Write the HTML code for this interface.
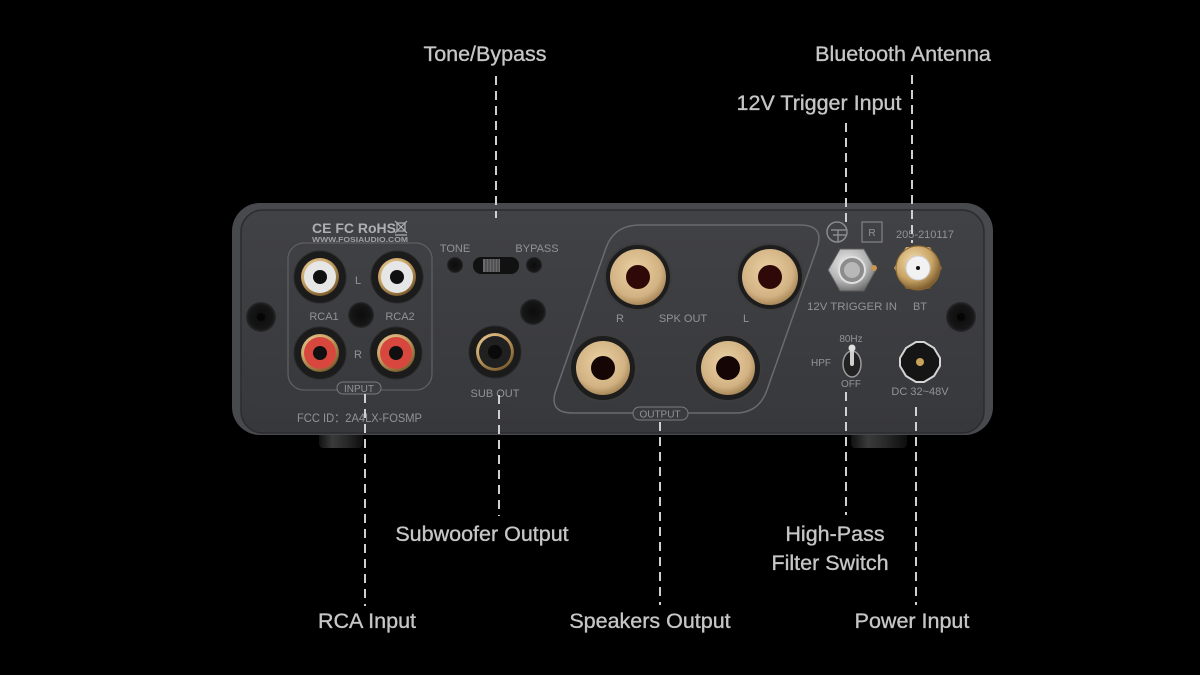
<!DOCTYPE html>
<html><head><meta charset="utf-8"><style>
html,body{margin:0;padding:0;background:#000;}
body{width:1200px;height:675px;overflow:hidden;}
svg{display:block;}
.lbl{font-family:"Liberation Sans",Arial,sans-serif;font-size:21.5px;fill:#c6c6c6;stroke:#c6c6c6;stroke-width:0.35px;}
.pt{font-family:"Liberation Sans",Arial,sans-serif;fill:#929395;}
</style></head><body>
<svg width="1200" height="675" viewBox="0 0 1200 675" xmlns="http://www.w3.org/2000/svg">
<defs>
<linearGradient id="face" x1="0" y1="0" x2="0" y2="1">
<stop offset="0" stop-color="#414245"/><stop offset="1" stop-color="#37383b"/>
</linearGradient>
<radialGradient id="gold" cx="0.4" cy="0.35" r="0.7">
<stop offset="0" stop-color="#f3deb0"/><stop offset="0.6" stop-color="#c9a466"/><stop offset="1" stop-color="#6e5025"/>
</radialGradient>
<radialGradient id="spk" cx="0.45" cy="0.4" r="0.65">
<stop offset="0" stop-color="#ead2a6"/><stop offset="0.7" stop-color="#d2b282"/><stop offset="1" stop-color="#9c7a4c"/>
</radialGradient>
<radialGradient id="silver" cx="0.4" cy="0.35" r="0.7">
<stop offset="0" stop-color="#eeeeee"/><stop offset="0.6" stop-color="#b4b4b4"/><stop offset="1" stop-color="#6a6a6a"/>
</radialGradient>
<radialGradient id="hole" cx="0.5" cy="0.5" r="0.5">
<stop offset="0" stop-color="#0c0c0c"/><stop offset="0.8" stop-color="#161617"/><stop offset="1" stop-color="#2a2a2c"/>
</radialGradient>
<linearGradient id="foot" x1="0" y1="0" x2="1" y2="0">
<stop offset="0" stop-color="#111"/><stop offset="0.3" stop-color="#3a3a3a"/><stop offset="0.6" stop-color="#2a2a2a"/><stop offset="1" stop-color="#0d0d0d"/>
</linearGradient>
</defs>
<rect width="1200" height="675" fill="#000"/>

<!-- feet -->
<rect x="319" y="430" width="44" height="18" rx="4" fill="url(#foot)"/>
<rect x="851" y="430" width="56" height="18" rx="4" fill="url(#foot)"/>

<!-- panel -->
<rect x="232" y="203" width="761" height="232" rx="28" fill="#48494c"/>
<rect x="241" y="210" width="743" height="223" rx="22" fill="url(#face)" stroke="#2b2c2e" stroke-width="1.5"/>

<!-- screw holes -->
<circle cx="261" cy="317" r="15" fill="url(#hole)"/>
<circle cx="261" cy="317" r="4" fill="#050505"/>
<circle cx="961" cy="317" r="15" fill="url(#hole)"/>
<circle cx="961" cy="317" r="4" fill="#050505"/>

<!-- cert text -->
<text class="pt" x="312" y="233" font-size="14" font-weight="bold" style="fill:#aeafb1">CE FC RoHS</text>
<g stroke="#aeafb1" stroke-width="1.2" fill="none">
<rect x="397" y="223" width="8" height="8"/><line x1="395" y1="221" x2="407" y2="233"/><line x1="407" y1="221" x2="395" y2="233"/><line x1="395" y1="235" x2="407" y2="235"/>
</g>
<text class="pt" x="312" y="242" font-size="7.5" font-weight="bold" textLength="96" lengthAdjust="spacingAndGlyphs" style="fill:#a0a1a3">WWW.FOSIAUDIO.COM</text>

<!-- input group -->
<rect x="288" y="243" width="144" height="147" rx="16" fill="none" stroke="#5d5e61" stroke-width="1.3"/>
<circle cx="361" cy="315" r="13" fill="url(#hole)"/>
<g>
<circle cx="320" cy="277" r="26" fill="#1b1b1c" stroke="#2a2a2b"/>
<circle cx="320" cy="277" r="19" fill="url(#gold)"/>
<circle cx="320" cy="277" r="16" fill="#e6e6e6"/>
<circle cx="320" cy="277" r="7" fill="#101010"/>
<circle cx="397" cy="277" r="26" fill="#1b1b1c" stroke="#2a2a2b"/>
<circle cx="397" cy="277" r="19" fill="url(#gold)"/>
<circle cx="397" cy="277" r="16" fill="#e6e6e6"/>
<circle cx="397" cy="277" r="7" fill="#101010"/>
<circle cx="320" cy="353" r="26" fill="#1b1b1c" stroke="#2a2a2b"/>
<circle cx="320" cy="353" r="19" fill="url(#gold)"/>
<circle cx="320" cy="353" r="16" fill="#d8473d"/>
<circle cx="320" cy="353" r="7" fill="#101010"/>
<circle cx="396" cy="353" r="26" fill="#1b1b1c" stroke="#2a2a2b"/>
<circle cx="396" cy="353" r="19" fill="url(#gold)"/>
<circle cx="396" cy="353" r="16" fill="#d8473d"/>
<circle cx="396" cy="353" r="7" fill="#101010"/>
</g>
<text class="pt" x="358" y="284" font-size="11" text-anchor="middle">L</text>
<text class="pt" x="358" y="358" font-size="11" text-anchor="middle">R</text>
<text class="pt" x="324" y="320" font-size="11" text-anchor="middle">RCA1</text>
<text class="pt" x="400" y="320" font-size="11" text-anchor="middle">RCA2</text>
<rect x="337" y="382" width="44" height="12" rx="6" fill="#3b3c3f" stroke="#7a7b7e" stroke-width="1"/>
<text class="pt" x="359" y="392" font-size="10" text-anchor="middle">INPUT</text>
<text class="pt" x="297" y="422" font-size="12" textLength="125" lengthAdjust="spacingAndGlyphs">FCC ID：2A4LX-FOSMP</text>

<!-- tone / bypass -->
<text class="pt" x="455" y="252" font-size="11" text-anchor="middle">TONE</text>
<text class="pt" x="537" y="252" font-size="11" text-anchor="middle">BYPASS</text>
<circle cx="455" cy="265" r="8" fill="url(#hole)"/>
<circle cx="534" cy="265" r="8" fill="url(#hole)"/>
<rect x="473" y="257" width="46" height="17" rx="8" fill="#111"/>
<rect x="483" y="259" width="17" height="13" fill="#6a6a6c"/>
<g stroke="#3a3a3c" stroke-width="1"><line x1="486" y1="259" x2="486" y2="272"/><line x1="489" y1="259" x2="489" y2="272"/><line x1="492" y1="259" x2="492" y2="272"/><line x1="495" y1="259" x2="495" y2="272"/><line x1="498" y1="259" x2="498" y2="272"/></g>
<circle cx="533" cy="312" r="13" fill="url(#hole)"/>

<!-- sub out -->
<circle cx="495" cy="352" r="26" fill="#1b1b1c" stroke="#2a2a2b"/>
<circle cx="495" cy="352" r="19" fill="url(#gold)"/>
<circle cx="495" cy="352" r="16" fill="#202021"/>
<circle cx="495" cy="352" r="7" fill="#0a0a0a"/>
<text class="pt" x="495" y="397" font-size="11" text-anchor="middle">SUB OUT</text>

<!-- output group -->
<path d="M 640 225 L 800 225 Q 825 225 817 248 L 767 390 Q 759 413 735 413 L 573 413 Q 548 413 556 390 L 606 248 Q 614 225 640 225 Z" fill="none" stroke="#6a6b6e" stroke-width="1.5"/>
<g>
<circle cx="638" cy="277" r="33" fill="#1d1d1e" stroke="#3c3c3e" stroke-width="2"/>
<circle cx="638" cy="277" r="28" fill="url(#spk)"/>
<circle cx="638" cy="277" r="12" fill="#2e0907"/>
<circle cx="770" cy="277" r="33" fill="#1d1d1e" stroke="#3c3c3e" stroke-width="2"/>
<circle cx="770" cy="277" r="28" fill="url(#spk)"/>
<circle cx="770" cy="277" r="12" fill="#2e0907"/>
<circle cx="603" cy="368" r="33" fill="#1d1d1e" stroke="#3c3c3e" stroke-width="2"/>
<circle cx="603" cy="368" r="27" fill="url(#spk)"/>
<circle cx="603" cy="368" r="12" fill="#150605"/>
<circle cx="728" cy="368" r="33" fill="#1d1d1e" stroke="#3c3c3e" stroke-width="2"/>
<circle cx="728" cy="368" r="27" fill="url(#spk)"/>
<circle cx="728" cy="368" r="12" fill="#150605"/>
</g>
<text class="pt" x="620" y="322" font-size="11" text-anchor="middle">R</text>
<text class="pt" x="683" y="322" font-size="11" text-anchor="middle">SPK OUT</text>
<text class="pt" x="746" y="322" font-size="11" text-anchor="middle">L</text>
<rect x="633" y="407" width="55" height="13" rx="6.5" fill="#3a3b3e" stroke="#7a7b7e" stroke-width="1"/>
<text class="pt" x="660" y="417.5" font-size="10" text-anchor="middle">OUTPUT</text>

<!-- right side marks -->
<circle cx="837" cy="232" r="10" fill="none" stroke="#8a8b8d" stroke-width="1.5"/>
<g stroke="#8a8b8d" stroke-width="1.5"><line x1="831" y1="230" x2="846" y2="230"/><line x1="833" y1="235" x2="846" y2="235"/><line x1="838" y1="230" x2="838" y2="242"/></g>
<rect x="862" y="222" width="20" height="20" fill="none" stroke="#7e7f81" stroke-width="1.3"/>
<text class="pt" x="872" y="236" font-size="10" text-anchor="middle">R</text>
<text class="pt" x="925" y="238" font-size="11" text-anchor="middle">205-210117</text>

<!-- trigger -->
<polygon points="876,270 864,291 840,291 828,270 840,249 864,249" fill="url(#silver)" stroke="#5a5a5a"/>
<circle cx="874" cy="268" r="3" fill="#c8964e"/>
<circle cx="852" cy="270" r="13" fill="#8c8c8c" stroke="#e0e0e0" stroke-width="2"/>
<circle cx="852" cy="270" r="8" fill="#b8b8b8"/>
<text class="pt" x="852" y="310" font-size="11" text-anchor="middle" textLength="90" lengthAdjust="spacingAndGlyphs">12V TRIGGER IN</text>

<!-- BT -->
<polygon points="942,268 930,289 906,289 894,268 906,247 930,247" fill="url(#gold)"/>
<circle cx="918" cy="268" r="22" fill="url(#gold)" stroke="#8a6630" stroke-width="1"/>
<circle cx="918" cy="268" r="12" fill="#f2f2f2" stroke="#cfcfcf"/>
<circle cx="918" cy="268" r="2" fill="#111"/>
<text class="pt" x="920" y="310" font-size="11" text-anchor="middle">BT</text>

<!-- HPF toggle -->
<text class="pt" x="851" y="342" font-size="10" text-anchor="middle">80Hz</text>
<text class="pt" x="821" y="366" font-size="10" text-anchor="middle">HPF</text>
<text class="pt" x="851" y="387" font-size="10" text-anchor="middle">OFF</text>
<ellipse cx="852" cy="364" rx="9" ry="13" fill="#222" stroke="#9a9a9c" stroke-width="1.5"/>
<line x1="852" y1="364" x2="852" y2="349" stroke="#cfcfcf" stroke-width="4" stroke-linecap="round"/>
<circle cx="852" cy="348" r="3.5" fill="#e0e0e0"/>

<!-- DC jack -->
<polygon points="940,358 940,366 934,376 924,382 916,382 906,376 900,366 900,358 906,348 916,342 924,342 934,348" fill="#151515" stroke="#d4d4d4" stroke-width="2"/>
<circle cx="920" cy="362" r="4" fill="#c9a35c"/>
<text class="pt" x="920" y="395" font-size="11" text-anchor="middle">DC 32~48V</text>

<!-- leader lines -->
<g stroke="#d0d0d0" stroke-width="2" stroke-dasharray="9 6" fill="none">
<line x1="496" y1="76" x2="496" y2="218"/>
<line x1="912" y1="75" x2="912" y2="243"/>
<line x1="846" y1="123" x2="846" y2="222"/>
<line x1="365" y1="394" x2="365" y2="606"/>
<line x1="499" y1="395" x2="499" y2="516"/>
<line x1="660" y1="422" x2="660" y2="605"/>
<line x1="846" y1="392" x2="846" y2="515"/>
<line x1="916" y1="407" x2="916" y2="605"/>
</g>

<!-- labels -->
<text class="lbl" x="485" y="61" text-anchor="middle">Tone/Bypass</text>
<text class="lbl" x="903" y="61" text-anchor="middle">Bluetooth Antenna</text>
<text class="lbl" x="819" y="110" text-anchor="middle">12V Trigger Input</text>
<text class="lbl" x="482" y="541" text-anchor="middle">Subwoofer Output</text>
<text class="lbl" x="835" y="541" text-anchor="middle">High-Pass</text>
<text class="lbl" x="830" y="570" text-anchor="middle">Filter Switch</text>
<text class="lbl" x="367" y="628" text-anchor="middle">RCA Input</text>
<text class="lbl" x="650" y="628" text-anchor="middle">Speakers Output</text>
<text class="lbl" x="912" y="628" text-anchor="middle">Power Input</text>
</svg>
</body></html>
